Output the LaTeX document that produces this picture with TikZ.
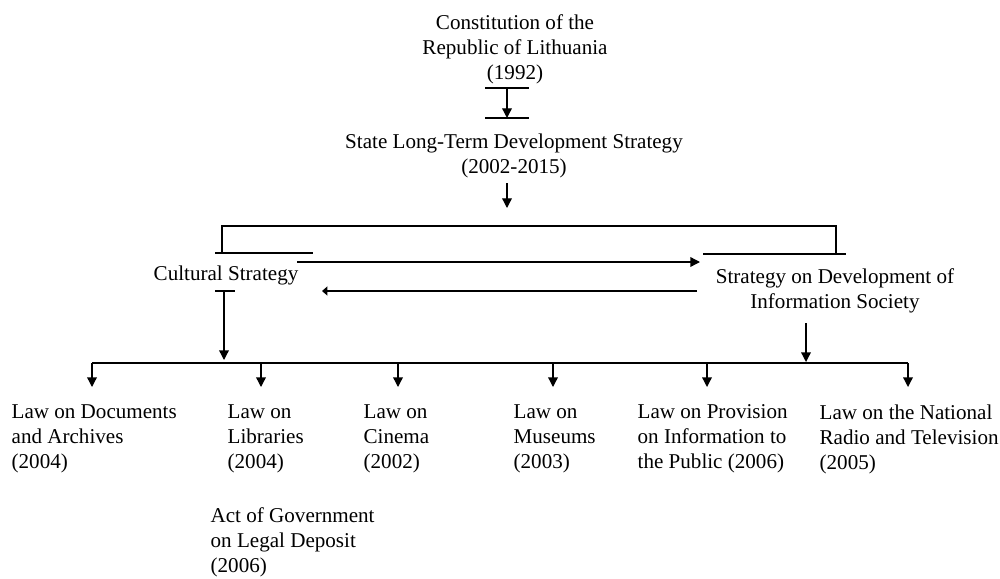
\documentclass[tikz,border=0pt]{standalone}
\usepackage{fontspec}
\setmainfont{Liberation Serif}
\usetikzlibrary{arrows.meta}

\tikzset{
  doc/.style={inner sep=0pt,align=left,anchor=north west},
  head/.style={inner sep=0pt,align=center,anchor=north},
  line/.style={line width=0.7pt}
}

\begin{document}
\begin{tikzpicture}[x=0.02cm,y=-0.02cm,font=\fontsize{12}{14.2}\selectfont,
    >={Triangle[length=5.5pt,width=5.5pt]},line width=0.75pt]
    \useasboundingbox (0,0) rectangle (1000,578);
    % top of the hierarchy
    \node[head](const)at(515,14){Constitution of the\\Republic of Lithuania\\(1992)};
    \node[head](state)at(514,133){State Long-Term Development Strategy\\(2002-2015)};
    \coordinate(c1)at(507,88);
    \coordinate(c2)at(507,118);
    \draw([xshift=-0.44cm]c1)--([xshift=0.44cm]c1);
    \draw([xshift=-0.44cm]c2)--([xshift=0.44cm]c2);
    \draw[->](c1)--(c2);
    \draw[->](507,183)--(507,208);
    % the two strategies
    \node[head](cult)at(226,265){Cultural Strategy};
    \node[head](info)at(835,268){Strategy on Development of\\Information Society};
    \draw(222,253)--(222,226)--(836,226)--(836,254);
    \draw(215,253)--(313,253);
    \draw(703,254)--(846,254);
    \draw[->](297,262)--(700,262);
    \draw[-{Triangle[length=3pt,width=5pt]}](697,291)--(322,291);
    % down to the laws
    \draw(215,291)--(235,291);
    \draw[->](224,291)--(224,360);
    \draw[->](806,323)--(806,362);
    \draw(785,363)--(821,363);
    \draw(92,363)--(908,363);
    \foreach \x in {92,261,398,553,707,908}
        \draw[->](\x,363)--(\x,387);
    % laws
    \node[doc](docs)at(11,404){Law on Documents\\and Archives\\(2004)};
    \node[doc](libs)at(227,404){Law on\\Libraries\\(2004)};
    \node[doc](cine)at(363,404){Law on\\Cinema\\(2002)};
    \node[doc](muse)at(513,404){Law on\\Museums\\(2003)};
    \node[doc](prov)at(637,404){Law on Provision\\on Information to\\the Public (2006)};
    \node[doc](radio)at(819,404){Law on the National\\Radio and Television\\(2005)};
    \node[doc](act)at(210,507){Act of Government\\on Legal Deposit\\(2006)};
\end{tikzpicture}
\end{document}
